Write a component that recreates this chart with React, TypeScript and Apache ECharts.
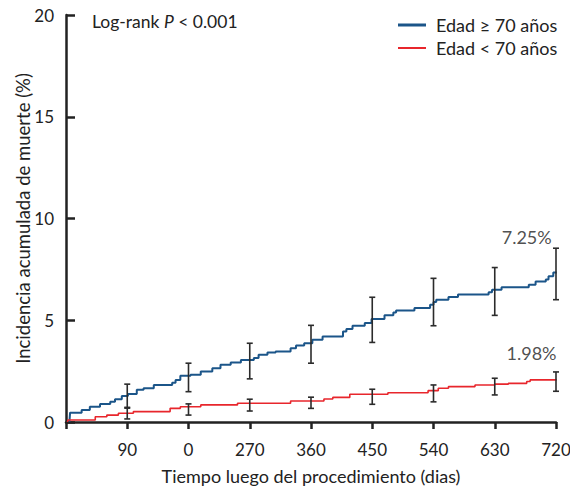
import React, { useEffect, useRef } from "react";
import * as echarts from "echarts";

const xTickLabels: Record<number, string> = {
  90: "90",
  180: "0",
  270: "270",
  360: "360",
  450: "450",
  540: "540",
  630: "630",
  720: "720",
};

const seriesNames = ["Edad \u2265 70 a\u00f1os", "Edad < 70 a\u00f1os"];

// [day, cumulative incidence %]
const blueSteps: [number, number][] = [
  [5, 0], [6, 0.46], [23, 0.59], [35, 0.75], [50, 0.89], [65, 1.0], [72, 1.12],
  [82, 1.28], [91, 1.38], [104, 1.58], [114, 1.66], [129, 1.82], [156, 1.93],
  [161, 2.07], [168, 2.27], [183, 2.32], [198, 2.48], [215, 2.64], [227, 2.81],
  [242, 2.92], [257, 3.05], [276, 3.14], [283, 3.3], [296, 3.41], [308, 3.46],
  [330, 3.63], [338, 3.76], [350, 3.87], [362, 4.04], [377, 4.2], [407, 4.45],
  [412, 4.57], [421, 4.73], [439, 4.86], [449, 5.06], [468, 5.24], [481, 5.38],
  [485, 5.48], [512, 5.6], [535, 5.76], [540, 5.9], [544, 6.01], [562, 6.14],
  [576, 6.26], [621, 6.37], [626, 6.5], [640, 6.62], [680, 6.75], [690, 6.91],
  [705, 7.0], [709, 7.16], [716, 7.35], [721, 7.35],
];

const redSteps: [number, number][] = [
  [2, 0], [3, 0.1], [43, 0.26], [60, 0.34], [77, 0.43], [99, 0.51], [153, 0.67],
  [168, 0.75], [198, 0.84], [252, 0.92], [330, 1.03], [379, 1.13], [392, 1.21],
  [417, 1.36], [473, 1.44], [532, 1.54], [547, 1.66], [562, 1.74], [601, 1.82],
  [630, 1.86], [650, 1.9], [677, 1.99], [682, 2.07], [721, 2.07],
];

// [day, lower, upper]
const blueCI: [number, number, number][] = [
  [90, 0.72, 1.86], [180, 1.49, 2.89], [270, 2.12, 3.87], [360, 2.89, 4.75],
  [450, 3.91, 6.13], [540, 4.73, 7.06], [630, 5.24, 7.59], [720, 6.01, 8.54],
];

const redCI: [number, number, number][] = [
  [90, 0.15, 0.68], [180, 0.34, 0.89], [270, 0.54, 1.12], [360, 0.67, 1.22],
  [450, 0.87, 1.61], [540, 0.99, 1.82], [630, 1.33, 2.15], [720, 1.51, 2.46],
];

const endLabels: { pos: [number, number]; text: string }[] = [
  { pos: [677, 9.1], text: "7.25%" },
  { pos: [684, 3.4], text: "1.98%" },
];

const BLUE = "#1b5589";
const RED = "#e8262c";
const INK = "#222";
const FONT = "Lato, 'Noto Sans', sans-serif";
const FS = 18;

function errorBarRender(params: any, api: any) {
  const x = api.value(0);
  const lo = api.coord([x, api.value(1)]);
  const hi = api.coord([x, api.value(2)]);
  const cap = 3;
  const style = { stroke: "#2b2b2b", lineWidth: 1.6 };
  return {
    type: "group",
    children: [
      { type: "line", shape: { x1: lo[0], y1: lo[1], x2: hi[0], y2: hi[1] }, style },
      { type: "line", shape: { x1: hi[0] - cap, y1: hi[1], x2: hi[0] + cap, y2: hi[1] }, style },
      { type: "line", shape: { x1: lo[0] - cap, y1: lo[1], x2: lo[0] + cap, y2: lo[1] }, style },
    ],
  };
}

export default function App() {
  const ref = useRef<HTMLDivElement>(null);
  useEffect(() => {
    if (!ref.current) return;
    const chart = echarts.init(ref.current, undefined, { renderer: "svg" });
    chart.setOption({
      animation: false,
      backgroundColor: "#fff",
      textStyle: { fontFamily: FONT },
      grid: { left: 66, right: 14, top: 15, bottom: 67, containLabel: false, outerBoundsMode: "none" },
      legend: [
        {
          left: 393,
          top: 11,
          data: [{ name: seriesNames[0], icon: "rect" }],
          itemWidth: 28,
          itemHeight: 3,
          textStyle: { fontSize: FS, color: INK, fontFamily: FONT, padding: [0, 0, 0, 5] },
          selectedMode: false,
        },
        {
          left: 393,
          top: 34,
          data: [{ name: seriesNames[1], icon: "rect" }],
          itemWidth: 28,
          itemHeight: 2,
          textStyle: { fontSize: FS, color: INK, fontFamily: FONT, padding: [0, 0, 0, 5] },
          selectedMode: false,
        },
      ],
      xAxis: {
        type: "value",
        min: 0,
        max: 720,
        interval: 90,
        name: "Tiempo luego del procedimiento (dias)",
        nameLocation: "middle",
        nameGap: 45,
        nameMoveOverlap: false,
        nameTextStyle: { fontSize: 18, color: INK, fontFamily: FONT },
        splitLine: { show: false },
        axisLine: { lineStyle: { color: INK, width: 2.5 } },
        axisTick: { length: 7, lineStyle: { color: INK, width: 2.5 } },
        axisLabel: {
          margin: 19,
          fontSize: 17,
          color: INK,
          fontFamily: FONT,
          formatter: (v: number) => xTickLabels[v] ?? "",
        },
      },
      yAxis: {
        type: "value",
        min: 0,
        max: 20,
        interval: 5,
        name: "Incidencia acumulada de muerte (%)",
        nameLocation: "middle",
        nameGap: 34,
        nameMoveOverlap: false,
        nameTextStyle: { fontSize: 18.5, color: INK, fontFamily: FONT },
        splitLine: { show: false },
        axisLine: { show: true, lineStyle: { color: INK, width: 2.5 } },
        axisTick: { show: true, inside: true, length: 9, lineStyle: { color: INK, width: 2.5 } },
        axisLabel: { margin: 12, fontSize: 17, color: INK, fontFamily: FONT, padding: [5, 0, 0, 0] },
      },
      graphic: [
        {
          type: "text",
          left: 92,
          top: 12,
          style: {
            text: "{a|Log-rank }{i|P}{a| < 0.001}",
            rich: {
              a: { fontSize: 17.5, fill: INK, fontFamily: FONT },
              i: { fontSize: 17.5, fill: INK, fontFamily: FONT, fontStyle: "italic" },
            },
          },
        },
      ],
      series: [
        {
          name: seriesNames[0],
          type: "line",
          step: "end",
          data: blueSteps,
          showSymbol: false,
          symbol: "none",
          lineStyle: { color: BLUE, width: 2 },
          itemStyle: { color: BLUE },
          z: 3,
        },
        {
          name: seriesNames[1],
          type: "line",
          step: "end",
          data: redSteps,
          showSymbol: false,
          symbol: "none",
          lineStyle: { color: RED, width: 1.6 },
          itemStyle: { color: RED },
          z: 3,
        },
        {
          type: "custom",
          renderItem: errorBarRender,
          data: blueCI,
          clip: false,
          z: 4,
        },
        {
          type: "custom",
          renderItem: errorBarRender,
          data: redCI,
          clip: false,
          z: 4,
        },
        {
          type: "scatter",
          symbolSize: 0,
          data: endLabels.map((d) => ({
            value: d.pos,
            label: { show: true, formatter: d.text, position: "inside", fontSize: FS, color: INK, fontFamily: FONT },
          })),
          silent: true,
          z: 5,
        },
      ],
    });
    return () => chart.dispose();
  }, []);
  return <div ref={ref} style={{ width: 570, height: 489, position: "absolute", left: 0, top: 0 }} />;
}
